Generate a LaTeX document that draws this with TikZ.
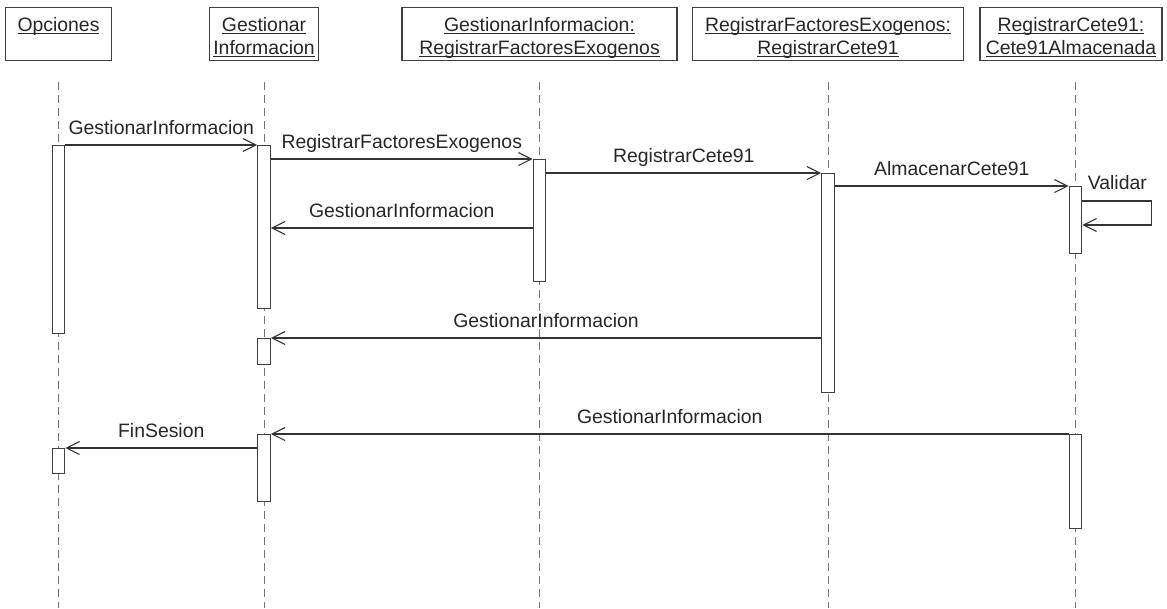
\documentclass[tikz,border=0pt]{standalone}
\usepackage{fontspec}
\setmainfont{Liberation Sans}
\usepackage{tikz}
\usetikzlibrary{arrows.meta}
\usetikzlibrary{positioning}

% underlined object name, rule just under the baseline
\newcommand{\uname}[1]{\setbox0\hbox{#1}\rlap{\rule[-2.5pt]{\wd0}{0.9pt}}\box0}

\begin{document}
\begin{tikzpicture}[
		x=1pt,
		y=-1pt,
		font=\fontsize{19.4pt}{23pt}\selectfont,
		>={Straight Barb[length=13pt,width=13pt]},
		line width=1.1pt,
	]
		\tikzset{header/.style={
			draw=black!75,
			line width=1.3pt,
			align=center,
			inner xsep=0,
			inner ysep=0,
			text height=47pt,
			text depth=6pt,
			anchor=north,
			text=black!85,
		}}
		\tikzset{lifeline/.style={
			draw=black!55,
			line width=1pt,
			dash pattern=on 8pt off 5pt,
		}}
		\tikzset{actbar/.style={
			draw=black!75,
			fill=white,
			minimum width=12.5,
			inner sep=0,
			anchor=north,
		}}
		\tikzset{msg/.style={
			draw=black!80,
			->,
		}}
		\tikzset{msglabel/.style={
			anchor=base,
			yshift=11pt,
			inner sep=0,
			text=black!85,
		}}

		\useasboundingbox (0,0) rectangle (1167,608);

		% objects
		\node[header, minimum width=106] (opc) at (58.5,7) {\uname{Opciones}\\\mbox{}};
		\node[header, minimum width=109] (ges) at (264,7) {\uname{Gestionar}\\\uname{Informacion}};
		\node[header, minimum width=275] (reg) at (539.5,7) {\uname{GestionarInformacion:}\\\uname{RegistrarFactoresExogenos}};
		\node[header, minimum width=271] (cet) at (828,7) {\uname{RegistrarFactoresExogenos:}\\\uname{RegistrarCete91}};
		\node[header, minimum width=182] (alm) at (1071,7) {\uname{RegistrarCete91:}\\\uname{Cete91Almacenada}};

		% lifelines
		\foreach \x in {58.5,264,539.5,828,1075.5}
			\draw[lifeline] (\x,82) -- (\x,608);

		% activations
		\node[actbar, minimum height=188] (opcA) at (58.5,145) {};
		\node[actbar, minimum height=25] (opcB) at (58.5,448) {};
		\node[actbar, minimum height=163] (gesA) at (264,145) {};
		\node[actbar, minimum height=26] (gesB) at (264,338) {};
		\node[actbar, minimum height=67] (gesC) at (264,434) {};
		\node[actbar, minimum height=122] (regA) at (539.5,159) {};
		\node[actbar, minimum height=219] (cetA) at (828,173) {};
		\node[actbar, minimum height=67] (almA) at (1075.5,186) {};
		\node[actbar, minimum height=94] (almB) at (1075.5,434) {};

		% messages
		\draw[msg] (opcA.north east) -- node[msglabel] {GestionarInformacion} (gesA.north west);
		\draw[msg] (gesA.east |- regA.north) -- node[msglabel] {RegistrarFactoresExogenos} (regA.north west);
		\draw[msg] (regA.east |- cetA.north) -- node[msglabel] {RegistrarCete91} (cetA.north west);
		\draw[msg] (cetA.east |- almA.north) -- node[msglabel] {AlmacenarCete91} (almA.north west);
		\draw[msg] (almA.east |- 0,201) -- node[msglabel, pos=0, anchor=base west, xshift=5pt, yshift=1pt] {Validar} ++(69,0) |- (almA.east |- 0,225);

		\draw[msg] (regA.west |- 0,228) -- node[msglabel] {GestionarInformacion} (gesA.east |- 0,228);
		\draw[msg] (cetA.west |- gesB.north) -- node[msglabel] {GestionarInformacion} (gesB.north east);
		\draw[msg] (almB.north west) -- node[msglabel] {GestionarInformacion} (gesC.north east);
		\draw[msg] (gesC.west |- opcB.north) -- node[msglabel] {FinSesion} (opcB.north east);
	\end{tikzpicture}
\end{document}
